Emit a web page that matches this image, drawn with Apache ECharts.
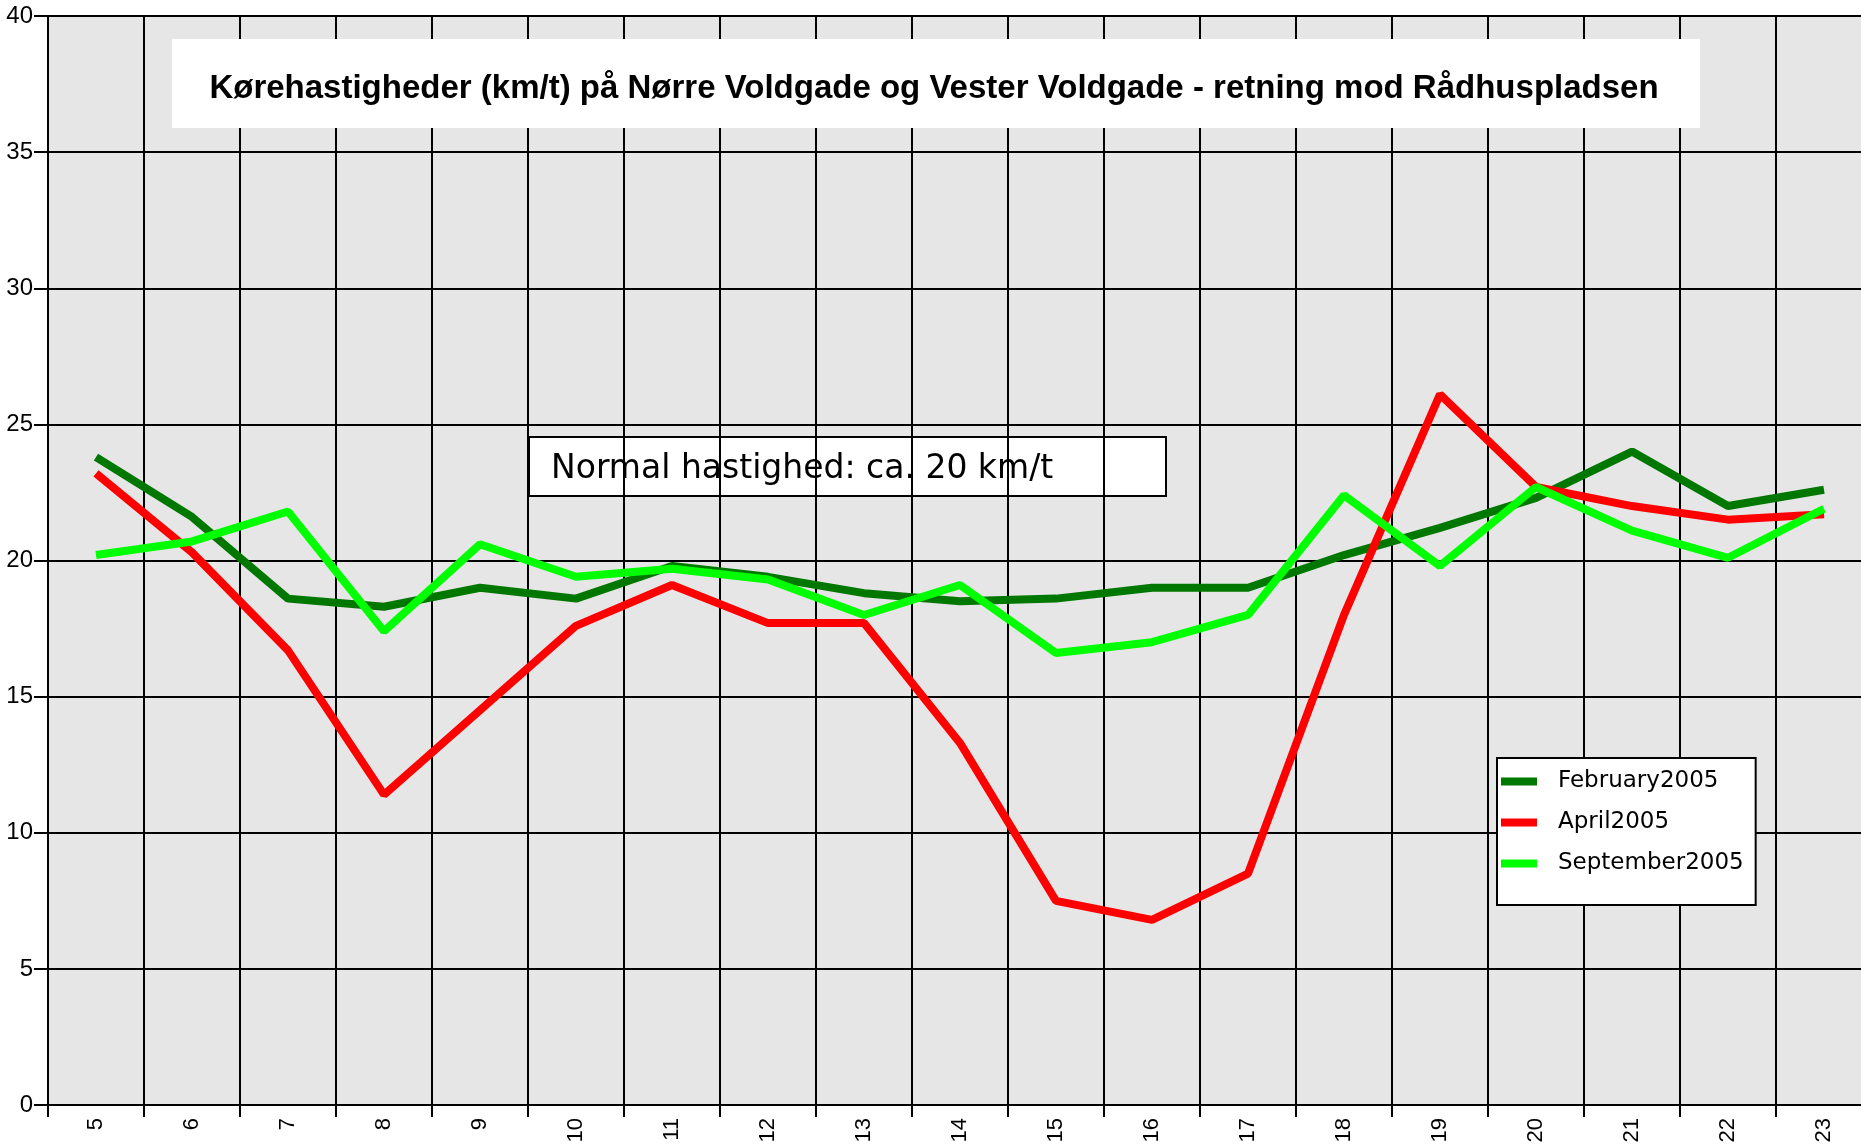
<!DOCTYPE html>
<html>
<head>
<meta charset="utf-8">
<title>Kørehastigheder</title>
<script src="https://cdn.jsdelivr.net/npm/echarts@6/dist/echarts.min.js"></script>
<style>
  html, body { margin: 0; padding: 0; background: #fff; }
  #chart { width: 1861px; height: 1144px; }
</style>
</head>
<body>
<div id="chart"></div>
<script>
// data
var hours = ['5', '6', '7', '8', '9', '10', '11', '12', '13', '14', '15', '16', '17', '18', '19', '20', '21', '22', '23'];
var february2005 = [23.8, 21.6, 18.6, 18.3, 19.0, 18.6, 19.8, 19.4, 18.8, 18.5, 18.6, 19.0, 19.0, 20.2, 21.2, 22.3, 24.0, 22.0, 22.6];
var april2005 = [23.2, 20.3, 16.7, 11.4, 14.5, 17.6, 19.1, 17.7, 17.7, 13.3, 7.5, 6.8, 8.5, 18.0, 26.1, 22.7, 22.0, 21.5, 21.7];
var september2005 = [20.2, 20.7, 21.8, 17.4, 20.6, 19.4, 19.7, 19.3, 18.0, 19.1, 16.6, 17.0, 18.0, 22.4, 19.8, 22.7, 21.1, 20.1, 21.9];
var yTicks = { min: 0, max: 40, interval: 5 };

(function () {
    var myChart = echarts.init(document.getElementById('chart'));
    var gridLine = { color: '#000', width: 2 };
    var option = {
        animation: false,
        backgroundColor: '#fff',
        title: {
            text: 'Kørehastigheder (km/t) på Nørre Voldgade og Vester Voldgade - retning mod Rådhuspladsen',
            left: 929,
            top: 84,
            textAlign: 'center',
            textVerticalAlign: 'middle',
            z: 20,
            textStyle: {
                fontFamily: 'Liberation Sans',
                fontWeight: 'bold',
                fontSize: 33,
                color: '#000'
            }
        },
        // white boxes: title background and the note
        graphic: [
            {
                type: 'rect',
                z: 10,
                shape: { x: 172, y: 39, width: 1528, height: 89 },
                style: { fill: '#fff' }
            },
            {
                type: 'group',
                z: 10,
                children: [
                    {
                        type: 'rect',
                        shape: { x: 529, y: 437, width: 637, height: 59 },
                        style: { fill: '#fff', stroke: '#000', lineWidth: 2 }
                    },
                    {
                        type: 'text',
                        x: 551,
                        y: 469,
                        style: {
                            text: 'Normal hastighed: ca. 20 km/t',
                            fontFamily: 'DejaVu Sans',
                            fontSize: 33,
                            fill: '#000',
                            verticalAlign: 'middle'
                        }
                    }
                ]
            }
        ],
        legend: {
            orient: 'vertical',
            left: 1497,
            top: 758,
            padding: [12, 12, 30, 4],
            itemWidth: 36,
            itemHeight: 8,
            itemGap: 18,
            icon: 'rect',
            backgroundColor: '#fff',
            borderColor: '#000',
            borderWidth: 2,
            textStyle: {
                fontFamily: 'DejaVu Sans',
                fontSize: 23,
                color: '#000',
                padding: [0, 0, 0, 16]
            },
            data: ['February2005', 'April2005', 'September2005']
        },
        grid: {
            left: 48,
            top: 16,
            width: 1824,
            height: 1089,
            outerBoundsMode: 'none',
            show: true,
            backgroundColor: '#e6e6e6',
            borderWidth: 0
        },
        xAxis: {
            type: 'category',
            boundaryGap: true,
            data: hours,
            axisLine: { lineStyle: gridLine },
            axisTick: { show: true, length: 12, lineStyle: gridLine },
            splitLine: { show: true, lineStyle: gridLine },
            axisLabel: {
                interval: 0,
                rotate: 90,
                margin: 13,
                fontFamily: 'Liberation Sans',
                fontSize: 22,
                color: '#000'
            }
        },
        yAxis: {
            type: 'value',
            min: yTicks.min,
            max: yTicks.max,
            interval: yTicks.interval,
            axisLine: { show: true, lineStyle: gridLine },
            axisTick: { show: true, length: 14, lineStyle: gridLine },
            splitLine: { show: true, lineStyle: gridLine },
            axisLabel: {
                margin: 15,
                fontFamily: 'Liberation Sans',
                fontSize: 24,
                color: '#000'
            }
        },
        series: [
            {
                name: 'February2005',
                type: 'line',
                symbol: 'none',
                color: '#007800',
                lineStyle: { width: 8, color: '#007800' },
                data: february2005
            },
            {
                name: 'April2005',
                type: 'line',
                symbol: 'none',
                color: '#ff0000',
                lineStyle: { width: 8, color: '#ff0000' },
                data: april2005
            },
            {
                name: 'September2005',
                type: 'line',
                symbol: 'none',
                color: '#00ff00',
                lineStyle: { width: 8, color: '#00ff00' },
                data: september2005
            }
        ]
    };
    myChart.setOption(option);
})();
</script>
</body>
</html>
